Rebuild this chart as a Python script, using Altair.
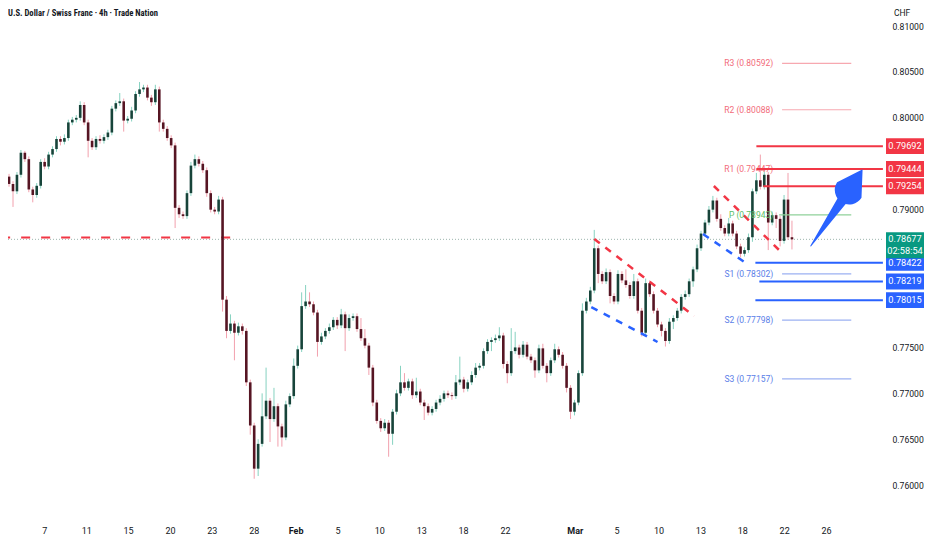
import altair as alt
import pandas as pd

# ---------------- data ----------------
title_text = "U.S. Dollar / Swiss Franc · 4h · Trade Nation"
axis_unit = "CHF"

first_open = 0.7936
closes = [
    0.7928, 0.7920, 0.7938, 0.7962, 0.7955, 0.7922, 0.7916, 0.7926, 0.7952, 0.7947,
    0.7960, 0.7966, 0.7977, 0.7974, 0.7978, 0.7995, 0.7998, 0.8000, 0.8014, 0.7995,
    0.7975, 0.7968, 0.7977, 0.7975, 0.7979, 0.7984, 0.8010, 0.8016, 0.8018, 0.7997,
    0.7999, 0.8008, 0.8026, 0.8031, 0.8033, 0.8022, 0.8017, 0.8031, 0.7995, 0.7988,
    0.7978, 0.7970, 0.7902, 0.7895, 0.7893, 0.7918, 0.7948, 0.7955, 0.7950, 0.7943,
    0.7918, 0.7900, 0.7898, 0.7911, 0.7802, 0.7768, 0.7776, 0.7766, 0.7773, 0.7768,
    0.7712, 0.7665, 0.7618, 0.7645, 0.7675, 0.7692, 0.7672, 0.7686, 0.7664, 0.7652,
    0.7688, 0.7697, 0.7730, 0.7748, 0.7795, 0.7800, 0.7797, 0.7788, 0.7756, 0.7762,
    0.7768, 0.7772, 0.7780, 0.7774, 0.7786, 0.7771, 0.7782, 0.7784, 0.7770, 0.7760,
    0.7752, 0.7728, 0.7690, 0.7670, 0.7662, 0.7668, 0.7656, 0.7680, 0.7700, 0.7712,
    0.7706, 0.7713, 0.7698, 0.7702, 0.7690, 0.7686, 0.7679, 0.7683, 0.7690, 0.7694,
    0.7700, 0.7698, 0.7697, 0.7712, 0.7715, 0.7705, 0.7712, 0.7720, 0.7728, 0.7730,
    0.7746, 0.7756, 0.7758, 0.7760, 0.7763, 0.7732, 0.7722, 0.7746, 0.7750, 0.7742,
    0.7753, 0.7740, 0.7736, 0.7725, 0.7749, 0.7730, 0.7722, 0.7736, 0.7748, 0.7742,
    0.7730, 0.7706, 0.7680, 0.7690, 0.7722, 0.7790, 0.7800, 0.7812, 0.7858, 0.7830,
    0.7822, 0.7832, 0.7806, 0.7800, 0.7830, 0.7823, 0.7818, 0.7806, 0.7822, 0.7790,
    0.7766, 0.7820, 0.7808, 0.7790, 0.7775, 0.7768, 0.7757, 0.7778, 0.7782, 0.7790,
    0.7805, 0.7808, 0.7822, 0.7835, 0.7858, 0.7874, 0.7886, 0.7900, 0.7910, 0.7890,
    0.7880, 0.7874, 0.7885, 0.7874, 0.7860, 0.7852, 0.7856, 0.7870, 0.7920, 0.7932,
    0.7925, 0.7938, 0.7886, 0.7894, 0.7890, 0.7866, 0.7911, 0.7870, 0.78677,
]
# wick lengths above / below the body, in pips
wick_up_pips = [
    3, 3, 3, 3, 2, 3, 3, 3, 3, 4,
    3, 3, 3, 3, 4, 3, 3, 3, 4, 3,
    3, 3, 3, 4, 3, 3, 3, 3, 9, 3,
    3, 4, 3, 8, 3, 3, 3, 5, 3, 3,
    3, 3, 3, 3, 3, 3, 4, 5, 3, 3,
    3, 3, 3, 4, 3, 4, 10, 3, 4, 3,
    3, 3, 3, 5, 25, 36, 3, 20, 3, 3,
    4, 3, 8, 4, 15, 18, 10, 3, 3, 4,
    3, 4, 3, 3, 6, 3, 4, 3, 3, 12,
    10, 3, 3, 3, 3, 4, 3, 3, 4, 18,
    10, 3, 3, 15, 3, 3, 3, 3, 3, 4,
    3, 3, 3, 8, 25, 3, 3, 4, 5, 3,
    3, 3, 3, 4, 9, 3, 3, 25, 17, 3,
    4, 3, 3, 3, 4, 5, 3, 3, 6, 3,
    3, 3, 3, 3, 3, 8, 4, 4, 20, 3,
    3, 4, 3, 3, 4, 3, 12, 3, 8, 3,
    3, 5, 3, 3, 3, 3, 3, 4, 3, 3,
    3, 4, 3, 3, 4, 3, 3, 4, 5, 3,
    5, 3, 6, 3, 3, 3, 3, 4, 3, 8,
    28, 5, 3, 4, 3, 3, 5, 29, 18,
]
wick_dn_pips = [
    3, 17, 3, 3, 3, 3, 8, 3, 3, 3,
    3, 3, 3, 4, 3, 3, 3, 3, 3, 3,
    18, 3, 3, 3, 3, 3, 3, 3, 3, 12,
    3, 3, 3, 3, 3, 3, 4, 3, 10, 3,
    3, 3, 22, 4, 3, 3, 3, 3, 3, 3,
    4, 3, 3, 3, 13, 8, 3, 30, 3, 4,
    4, 10, 11, 8, 3, 3, 25, 3, 22, 10,
    3, 3, 3, 3, 3, 3, 3, 3, 16, 3,
    3, 3, 3, 4, 3, 25, 3, 3, 3, 3,
    3, 8, 4, 3, 4, 3, 25, 12, 3, 3,
    3, 3, 4, 3, 3, 15, 3, 3, 3, 3,
    3, 3, 4, 3, 3, 4, 3, 3, 3, 3,
    3, 3, 10, 3, 3, 5, 11, 3, 3, 4,
    3, 3, 3, 8, 3, 3, 10, 3, 3, 3,
    3, 5, 8, 4, 3, 3, 3, 3, 3, 10,
    3, 3, 8, 3, 3, 3, 3, 3, 3, 3,
    4, 3, 3, 3, 3, 6, 6, 3, 8, 3,
    3, 3, 3, 6, 3, 3, 3, 3, 3, 3,
    3, 3, 3, 3, 3, 4, 3, 3, 5, 3,
    3, 3, 30, 3, 10, 6, 3, 3, 11,
]

# time axis: trading-day number of each labelled date, and the label
tick_days = [2, 5, 8, 11, 14, 17, 20, 23, 26, 29, 32, 35, 40, 43, 46, 49, 52, 55, 58]
tick_labels = ["7", "11", "15", "20", "23", "28", "Feb", "5", "10", "13", "18", "22",
               "Mar", "5", "10", "13", "18", "22", "26"]
bars_per_day = 3.53
first_day_bar = 2.0

# visible price-scale labels (others are hidden behind the level tags)
price_ticks = [0.760, 0.765, 0.770, 0.775, 0.790, 0.800, 0.805, 0.810]

# pivot points indicator
pivot_names = ["R3", "R2", "R1", "P", "S1", "S2", "S3"]
pivot_values = [0.80592, 0.80088, 0.79447, 0.78943, 0.78302, 0.77798, 0.77157]
pivot_kind = ["R", "R", "R", "P", "S", "S", "S"]
pivot_start = [195.5, 195.5, 195.5, 194.75, 195.5, 195.5, 195.5]
pivot_end = 213.0
pivot_label_bar = 193.25

# drawn resistance / support levels
level_values = [0.79692, 0.79444, 0.79254, 0.78422, 0.78219, 0.78015]
level_kind = ["res", "res", "res", "sup", "sup", "sup"]
level_start = [189.0, 189.0, 190.75, 188.75, 189.75, 188.75]
level_end = 221.0

last_price = 0.78677
countdown = "02:58:54"

# old horizontal level (dashed)
old_level = 0.78697
old_level_from, old_level_to = -2.0, 57.25

# flag channel lines (bar, price) -> (bar, price)
flag_b1 = [148.0, 147.25, 178.25, 175.5]
flag_p1 = [0.78681, 0.77940, 0.79258, 0.78735]
flag_b2 = [173.25, 164.0, 195.0, 186.0]
flag_p2 = [0.77842, 0.77559, 0.78550, 0.78430]
flag_kind = ["upper", "lower", "upper", "lower"]

# projected move arrow: shaft then head (bar, price, width)
arrow_part = ["shaft", "shaft", "head", "head"]
arrow_bar = [202.75, 212.5, 212.5, 215.75]
arrow_price = [0.78605, 0.79214, 0.79214, 0.79432]
arrow_width = [1, 12, 29, 0]

# ---------------- layout / style ----------------
W, H = 872, 512
X_DOM = [1, 219]
Y_DOM = [0.75621, 0.81196]
UP_BODY, DN_BODY = "#17443a", "#561523"
UP_WICK, DN_WICK = "#86d2c0", "#f2a0ad"
RED, BLUE, GREEN = "#f23645", "#2962ff", "#089981"
KIND_COLOR = {"upper": RED, "lower": BLUE, "res": RED, "sup": BLUE}
PIV_LINE = {"R": "#f7a8b0", "P": "#8fd19a", "S": "#9bb0f2"}
PIV_TEXT = {"R": "#f26b7a", "P": "#5cbf68", "S": "#5a7ee8"}
FONT = "Roboto"
TITLE_FONT = "'Liberation Sans Narrow', 'Roboto Condensed', Roboto"
TXT = "#131722"
TAG_X = W + 25          # centre of the price tags on the right scale
TAG_SIZE = 38 * 38       # tag width 38 px

xs = alt.Scale(domain=X_DOM, nice=False, zero=False)
ys = alt.Scale(domain=Y_DOM, nice=False, zero=False)
yaxis = alt.Axis(orient="right", values=price_ticks, format=".5f", ticks=False,
                 domain=False, grid=False, labelPadding=12, labelFontSize=8.6,
                 labelColor=TXT, labelFont=FONT, title=None)


def X(f):
    return alt.X(f, type="quantitative", scale=xs, axis=None)


def Y(f):
    return alt.Y(f, type="quantitative", scale=ys, axis=yaxis)


opens = [first_open] + closes[:-1]
candles = pd.DataFrame({
    "bar": list(range(len(closes))),
    "open": opens,
    "close": closes,
    "wu": wick_up_pips,
    "wd": wick_dn_pips,
})
candles["high"] = candles[["open", "close"]].max(axis=1) + candles["wu"] / 10000
candles["low"] = candles[["open", "close"]].min(axis=1) - candles["wd"] / 10000
up = "datum.close >= datum.open"

base = alt.Chart(candles)
wicks = base.mark_rule(strokeWidth=1, clip=True).encode(
    x=X("bar"), y=Y("low"), y2="high",
    color=alt.condition(up, alt.value(UP_WICK), alt.value(DN_WICK)))
bodies = base.mark_bar(size=2.6, clip=True).encode(
    x=X("bar"), y=Y("open"), y2="close",
    color=alt.condition(up, alt.value(UP_BODY), alt.value(DN_BODY)))

price_line = alt.Chart(pd.DataFrame({"p": [last_price]})).mark_rule(
    strokeWidth=1, strokeDash=[1, 2], color="#9db5ae").encode(
    y=Y("p"), x=alt.value(0), x2=alt.value(W + 4))

old_df = pd.DataFrame({"p": [old_level], "b1": [old_level_from], "b2": [old_level_to]})
old_line = alt.Chart(old_df).mark_rule(strokeWidth=2, strokeDash=[9, 11], color=RED,
                                       clip=True).encode(
    x=X("b1"), x2="b2", y=Y("p"))

flag_df = pd.DataFrame({"b1": flag_b1, "p1": flag_p1, "b2": flag_b2, "p2": flag_p2,
                        "kind": flag_kind})
flag_df["col"] = flag_df["kind"].map(KIND_COLOR)
flags = alt.Chart(flag_df).mark_rule(strokeWidth=2.5, strokeDash=[7, 7]).encode(
    x=X("b1"), x2="b2", y=Y("p1"), y2="p2",
    color=alt.Color("col:N", scale=None))

piv_df = pd.DataFrame({"name": pivot_names, "v": pivot_values, "kind": pivot_kind,
                       "b1": pivot_start})
piv_df["b2"] = pivot_end
piv_df["lb"] = pivot_label_bar
piv_df["label"] = [f"{n} ({v:.5f})" for n, v in zip(pivot_names, pivot_values)]
piv_df["lcol"] = piv_df["kind"].map(PIV_LINE)
piv_df["tcol"] = piv_df["kind"].map(PIV_TEXT)
piv_lines = alt.Chart(piv_df).mark_rule(strokeWidth=1.2).encode(
    x=X("b1"), x2="b2", y=Y("v"), color=alt.Color("lcol:N", scale=None))
piv_text = alt.Chart(piv_df).mark_text(align="right", baseline="middle", fontSize=8.5,
                                       font=FONT).encode(
    x=X("lb"), y=Y("v"), text="label:N", color=alt.Color("tcol:N", scale=None))

lvl_df = pd.DataFrame({"v": level_values, "kind": level_kind, "b1": level_start})
lvl_df["b2"] = level_end
lvl_df["label"] = [f"{v:.5f}" for v in level_values]
lvl_df["col"] = lvl_df["kind"].map(KIND_COLOR)
levels = alt.Chart(lvl_df).mark_rule(strokeWidth=2).encode(
    x=X("b1"), x2="b2", y=Y("v"), color=alt.Color("col:N", scale=None))

box_shape = "M-1,-0.42L1,-0.42L1,0.42L-1,0.42Z"
lvl_boxes = alt.Chart(lvl_df).mark_point(shape=box_shape, filled=True, opacity=1,
                                         size=TAG_SIZE, strokeWidth=0).encode(
    x=alt.value(TAG_X), y=Y("v"), color=alt.Color("col:N", scale=None))
lvl_box_text = alt.Chart(lvl_df).mark_text(color="white", fontSize=9.2, font=FONT,
                                           baseline="middle").encode(
    x=alt.value(TAG_X), y=Y("v"), text="label:N")

last_df = pd.DataFrame({"p": [last_price], "label": [f"{last_price:.5f}"],
                        "timer": [countdown]})
last_box = alt.Chart(last_df).mark_point(
    shape="M-1,-0.37L1,-0.37L1,1.0L-1,1.0Z", filled=True, opacity=1, size=TAG_SIZE,
    strokeWidth=0, color=GREEN).encode(x=alt.value(TAG_X), y=Y("p"))
last_text = alt.Chart(last_df).mark_text(color="white", fontSize=9.2, font=FONT,
                                         baseline="middle").encode(
    x=alt.value(TAG_X), y=Y("p"), text="label:N")
last_timer = alt.Chart(last_df).mark_text(color="white", fontSize=9.2, font=FONT,
                                          baseline="middle", dy=12).encode(
    x=alt.value(TAG_X), y=Y("p"), text="timer:N")

arrow_df = pd.DataFrame({"part": arrow_part, "bar": arrow_bar, "p": arrow_price,
                         "w": arrow_width, "ord": list(range(len(arrow_bar)))})
arrow = alt.Chart(arrow_df).mark_trail(color=BLUE).encode(
    x=X("bar"), y=Y("p"), size=alt.Size("w:Q", scale=None, legend=None),
    detail="part:N", order="ord:Q")

tick_df = pd.DataFrame({"day": tick_days, "label": tick_labels})
tick_df["bar"] = first_day_bar + bars_per_day * tick_df["day"]
tick_df["bold"] = tick_df["label"].isin(["Feb", "Mar"])
x_labels = alt.Chart(tick_df).transform_filter("!datum.bold").mark_text(
    fontSize=9, font=FONT, color=TXT, baseline="middle").encode(
    x=X("bar"), y=alt.value(H + 11), text="label:N")
x_labels_bold = alt.Chart(tick_df).transform_filter("datum.bold").mark_text(
    fontSize=9, font=FONT, color=TXT, baseline="middle", fontWeight="bold").encode(
    x=X("bar"), y=alt.value(H + 11), text="label:N")

title = alt.Chart(pd.DataFrame({"t": [title_text]})).mark_text(
    align="left", baseline="top", fontSize=8.6, font=TITLE_FONT, color=TXT,
    fontWeight="bold").encode(x=alt.value(0), y=alt.value(0.5), text="t:N")
unit = alt.Chart(pd.DataFrame({"t": [axis_unit]})).mark_text(
    align="left", baseline="top", fontSize=8.5, font=FONT, color=TXT).encode(
    x=alt.value(W + 14), y=alt.value(0.5), text="t:N")

chart = alt.layer(
    price_line, old_line, wicks, bodies, flags, piv_lines, piv_text, levels,
    arrow, lvl_boxes, lvl_box_text, last_box, last_text, last_timer, x_labels,
    x_labels_bold, title, unit,
).properties(
    width=W, height=H,
    autosize=alt.AutoSizeParams(type="none"),
    padding={"left": 0, "top": 0, "right": 44, "bottom": 16},
    background="white",
).configure_view(strokeWidth=0)

chart.save("out.html", embed_options={"renderer": "svg", "actions": False})
